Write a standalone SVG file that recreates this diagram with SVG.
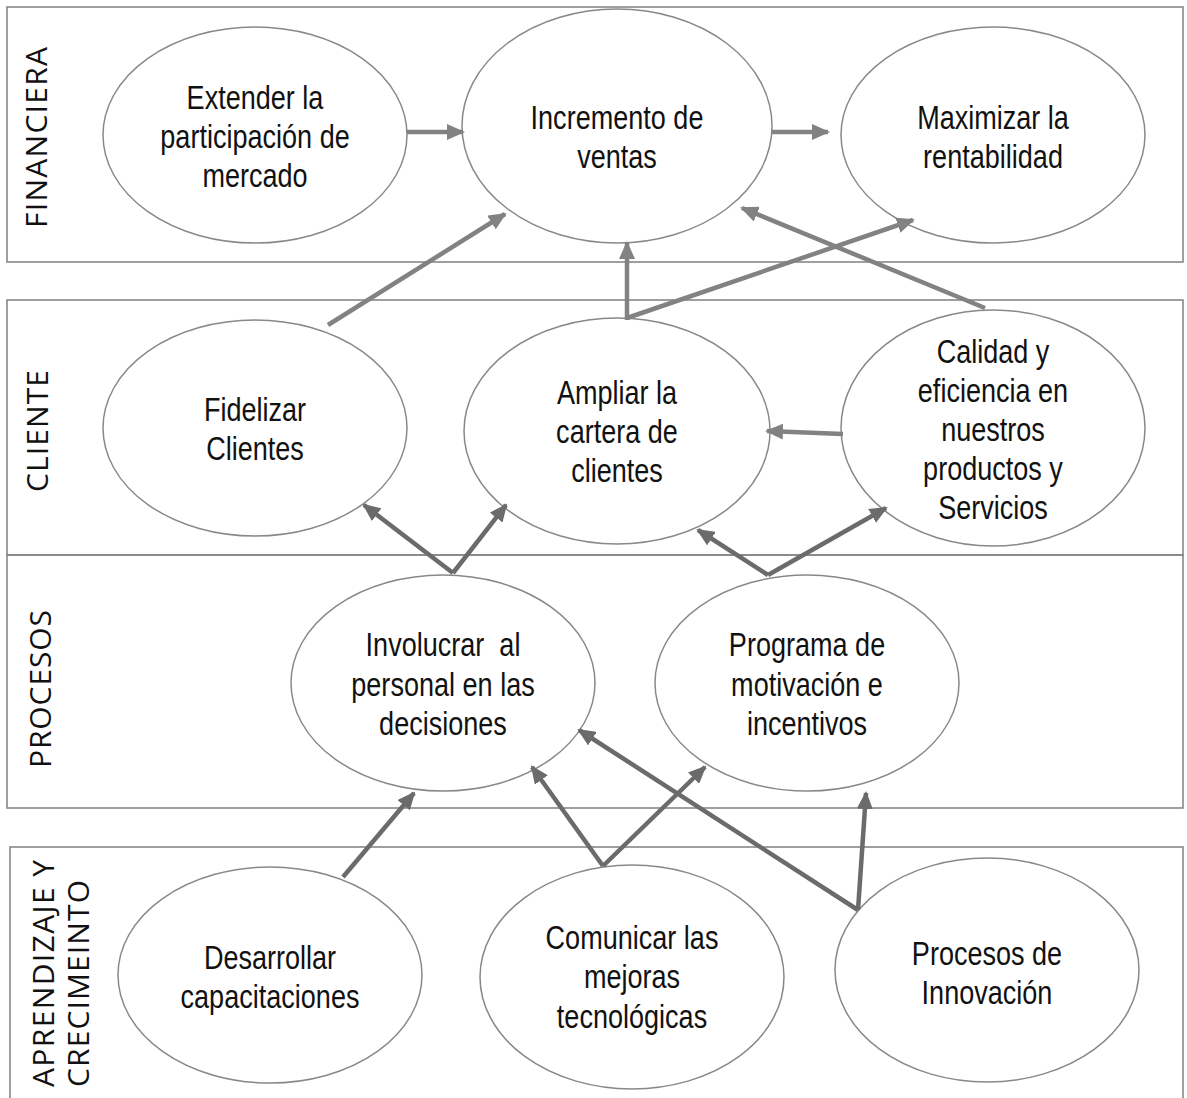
<svg xmlns="http://www.w3.org/2000/svg" width="1187" height="1098" viewBox="0 0 1187 1098">
<style>
.band{fill:none;stroke:#888;stroke-width:1.6}
.node ellipse{fill:#fff;stroke:#888;stroke-width:1.5}
.node text{font-family:"Liberation Sans",Arial,sans-serif;font-size:33px;fill:#111;text-anchor:middle}
.lbl{font-family:"Open Sans","Noto Sans",sans-serif;font-size:30px;fill:#111}
.c1{stroke:#828282;stroke-width:4.5;fill:none;marker-end:url(#a1)}
.c2{stroke:#6b6b6b;stroke-width:4.5;fill:none;marker-end:url(#a2)}
</style>
<defs>
<marker id="a1" markerUnits="userSpaceOnUse" markerWidth="18" markerHeight="16" refX="16" refY="8" orient="auto"><path d="M0,0 L18,8 L0,16 z" fill="#828282"/></marker>
<marker id="a2" markerUnits="userSpaceOnUse" markerWidth="18" markerHeight="16" refX="16" refY="8" orient="auto"><path d="M0,0 L18,8 L0,16 z" fill="#6b6b6b"/></marker>
</defs>
<rect width="1187" height="1098" fill="#fff"/>
<g id="bands">
<rect class="band" x="7" y="7" width="1176" height="255"/>
<rect class="band" x="7" y="300" width="1176" height="255"/>
<rect class="band" x="7" y="555" width="1176" height="253"/>
<rect class="band" x="10" y="847" width="1173" height="270"/>
<text class="lbl" transform="translate(47,228) rotate(-90)" textLength="181" lengthAdjust="spacing">FINANCIERA</text>
<text class="lbl" transform="translate(48,492) rotate(-90)" textLength="122" lengthAdjust="spacing">CLIENTE</text>
<text class="lbl" transform="translate(51,768) rotate(-90)" textLength="158" lengthAdjust="spacing">PROCESOS</text>
<text class="lbl" transform="translate(54,1087) rotate(-90)" textLength="227" lengthAdjust="spacing">APRENDIZAJE Y</text>
<text class="lbl" transform="translate(89,1087) rotate(-90)" textLength="207" lengthAdjust="spacing">CRECIMEINTO</text>
</g>
<g id="n-extender" class="node"><ellipse cx="255" cy="135" rx="152" ry="108"/>
<g transform="translate(255,0) scale(0.82,1)"><text x="0" y="109">Extender la</text><text x="0" y="148">participación de</text><text x="0" y="187">mercado</text></g></g>
<g id="n-incremento" class="node"><ellipse cx="617" cy="126" rx="155" ry="117"/>
<g transform="translate(617,0) scale(0.82,1)"><text x="0" y="129">Incremento de</text><text x="0" y="168">ventas</text></g></g>
<g id="n-maximizar" class="node"><ellipse cx="993" cy="135" rx="152" ry="108"/>
<g transform="translate(993,0) scale(0.82,1)"><text x="0" y="129">Maximizar la</text><text x="0" y="168">rentabilidad</text></g></g>
<g id="n-fidelizar" class="node"><ellipse cx="255" cy="428" rx="152" ry="108"/>
<g transform="translate(255,0) scale(0.82,1)"><text x="0" y="421">Fidelizar</text><text x="0" y="460">Clientes</text></g></g>
<g id="n-ampliar" class="node"><ellipse cx="617" cy="431" rx="153" ry="113"/>
<g transform="translate(617,0) scale(0.82,1)"><text x="0" y="404">Ampliar la</text><text x="0" y="443">cartera de</text><text x="0" y="482">clientes</text></g></g>
<g id="n-calidad" class="node"><ellipse cx="993" cy="428" rx="152" ry="118"/>
<g transform="translate(993,0) scale(0.82,1)"><text x="0" y="363">Calidad y</text><text x="0" y="402">eficiencia en</text><text x="0" y="441">nuestros</text><text x="0" y="480">productos y</text><text x="0" y="519">Servicios</text></g></g>
<g id="n-involucrar" class="node"><ellipse cx="443" cy="683" rx="152" ry="108"/>
<g transform="translate(443,0) scale(0.82,1)"><text x="0" y="656" xml:space="preserve">Involucrar  al</text><text x="0" y="696">personal en las</text><text x="0" y="735">decisiones</text></g></g>
<g id="n-programa" class="node"><ellipse cx="807" cy="683" rx="152" ry="108"/>
<g transform="translate(807,0) scale(0.82,1)"><text x="0" y="656">Programa de</text><text x="0" y="696">motivación e</text><text x="0" y="735">incentivos</text></g></g>
<g id="n-desarrollar" class="node"><ellipse cx="270" cy="975" rx="152" ry="108"/>
<g transform="translate(270,0) scale(0.82,1)"><text x="0" y="969">Desarrollar</text><text x="0" y="1008">capacitaciones</text></g></g>
<g id="n-comunicar" class="node"><ellipse cx="632" cy="977" rx="152" ry="112"/>
<g transform="translate(632,0) scale(0.82,1)"><text x="0" y="949">Comunicar las</text><text x="0" y="988">mejoras</text><text x="0" y="1028">tecnológicas</text></g></g>
<g id="n-innovacion" class="node"><ellipse cx="987" cy="970" rx="152" ry="112"/>
<g transform="translate(987,0) scale(0.82,1)"><text x="0" y="965">Procesos de</text><text x="0" y="1004">Innovación</text></g></g>
<g id="connectors">
<line class="c1" x1="407" y1="132" x2="463" y2="132"/>
<line class="c1" x1="772" y1="132" x2="828" y2="132"/>
<line class="c1" x1="328" y1="325" x2="505" y2="214"/>
<line class="c1" x1="627" y1="320" x2="627" y2="243"/>
<line class="c1" x1="627" y1="318" x2="913" y2="220"/>
<line class="c1" x1="985" y1="308" x2="742" y2="208"/>
<line class="c1" x1="843" y1="434" x2="767" y2="431"/>
<line class="c2" x1="453" y1="573" x2="364" y2="505"/>
<line class="c2" x1="453" y1="573" x2="506" y2="505"/>
<line class="c2" x1="768" y1="575" x2="698" y2="530"/>
<line class="c2" x1="768" y1="575" x2="886" y2="508"/>
<line class="c2" x1="343" y1="877" x2="414" y2="793"/>
<line class="c2" x1="603" y1="866" x2="532" y2="767"/>
<line class="c2" x1="603" y1="866" x2="705" y2="767"/>
<line class="c2" x1="858" y1="910" x2="579" y2="730"/>
<line class="c2" x1="858" y1="910" x2="866" y2="793"/>
</g>
</svg>
